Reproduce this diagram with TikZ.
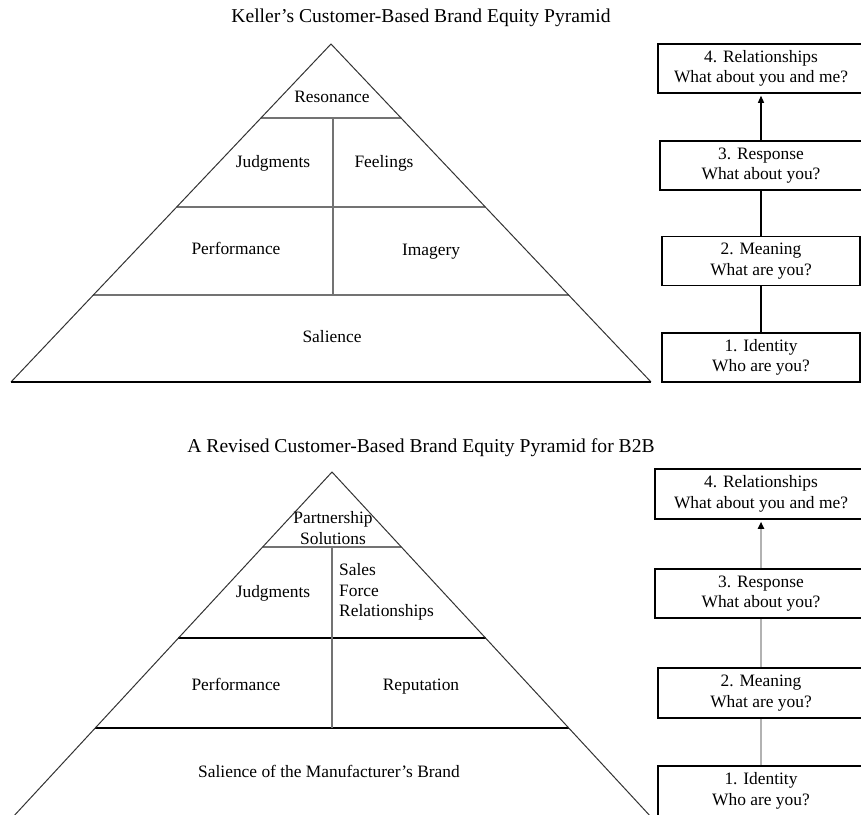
\documentclass[tikz,border=0pt]{standalone}
\usepackage{fontspec}
\setmainfont{Liberation Serif}
\usetikzlibrary{arrows.meta,calc}
\begin{document}
\begin{tikzpicture}[x=1pt,y=-1pt,
 lbl/.style={font=\fontsize{17.4}{20.5}\selectfont, inner sep=0pt, align=center, text height=12pt, text depth=4pt},
 ttl/.style={font=\fontsize{19.6}{22}\selectfont, inner sep=0pt},
 side/.style={draw=black!80, line width=1pt},
 divider/.style={draw=black!55, line width=1.4pt},
 basel/.style={draw=black, line width=1.4pt},
 stage/.style={draw=black, line width=1.5pt, minimum height=49pt, lbl, text height=, text depth=},
 linkA/.style={draw=black, line width=1.1pt},
 linkB/.style={draw=black!30, line width=2pt},
 tipA/.style={-{Triangle[length=7pt,width=6pt,color=black]}, shorten >=2pt},
]
\useasboundingbox (0,0) rectangle (861,814);
\clip (0,0) rectangle (861,814);

% ---------- top pyramid ----------
\node[ttl] (title1) at (421,18) {Keller's Customer-Based Brand Equity Pyramid};
\coordinate (TA) at (331,44);
\coordinate (TL) at (11,382);
\coordinate (TR) at (651,382);
\coordinate (T1l) at ($(TA)!0.2189!(TL)$); \coordinate (T1r) at ($(TA)!0.2189!(TR)$);
\coordinate (T2l) at ($(TA)!0.4822!(TL)$); \coordinate (T2r) at ($(TA)!0.4822!(TR)$);
\coordinate (T3l) at ($(TA)!0.7426!(TL)$); \coordinate (T3r) at ($(TA)!0.7426!(TR)$);
\coordinate (TVt) at (333,118); \coordinate (TVb) at (333,295);
\draw[divider] (T1l) -- (T1r);
\draw[divider] (T2l) -- (T2r);
\draw[divider] (T3l) -- (T3r);
\draw[divider] (TVt) -- (TVb);
\draw[side] (TL) -- (TA) -- (TR);
\draw[basel] (TL) -- (TR);

\node[lbl] (res) at (332,98) {Resonance};
\node[lbl] (jud1) at (273,163) {Judgments};
\node[lbl] (feel) at (384,163) {Feelings};
\node[lbl] (perf1) at (236,250) {Performance};
\node[lbl] (imag) at (431,251) {Imagery};
\node[lbl] (sal1) at (332,338) {Salience};

% ---------- top stages ----------
\node[stage, minimum width=198pt] (a1) at (761,357.5) {1. Identity\\Who are you?};
\node[stage, minimum width=198pt] (a2) at (761,261) {2. Meaning\\What are you?};
\node[stage, minimum width=202pt] (a3) at (761,165.5) {3. Response\\What about you?};
\node[stage, minimum width=206pt] (a4) at (761,68.5) {4. Relationships\\What about you and me?};
\draw[linkA] (a1) -- (a2);
\draw[linkA] (a2) -- (a3);
\draw[linkA, tipA] (a3) -- (a4);

% ---------- bottom pyramid ----------
\node[ttl] (title2) at (421,448) {A Revised Customer-Based Brand Equity Pyramid for B2B};
\coordinate (BA) at (332,472);
\coordinate (BL) at (12,818);
\coordinate (BR) at (652,818);
\coordinate (B1l) at ($(BA)!0.2168!(BL)$); \coordinate (B1r) at ($(BA)!0.2168!(BR)$);
\coordinate (B2l) at ($(BA)!0.4798!(BL)$); \coordinate (B2r) at ($(BA)!0.4798!(BR)$);
\coordinate (B3l) at ($(BA)!0.7399!(BL)$); \coordinate (B3r) at ($(BA)!0.7399!(BR)$);
\coordinate (BVt) at (332,547); \coordinate (BVb) at (332,728);
\draw[divider] (B1l) -- (B1r);
\draw[basel] (B2l) -- (B2r);
\draw[basel] (B3l) -- (B3r);
\draw[divider] (BVt) -- (BVb);
\draw[side] (BL) -- (BA) -- (BR);
\draw[basel] (BL) -- (BR);

\node[lbl, text height=, text depth=] (part) at (333,528) {Partnership\\Solutions};
\node[lbl] (jud2) at (273,593) {Judgments};
\node[lbl, align=left, anchor=west, text height=, text depth=] (sales) at (339,592) {Sales\\Force\\Relationships};
\node[lbl] (perf2) at (236,686) {Performance};
\node[lbl] (repu) at (421,686) {Reputation};
\node[lbl] (sal2) at (329,773) {Salience of the Manufacturer's Brand};

% ---------- bottom stages ----------
\node[stage, minimum width=206pt, minimum height=50pt] (b1) at (761,791) {1. Identity\\Who are you?};
\node[stage, minimum width=206pt, minimum height=50pt] (b2) at (761,693) {2. Meaning\\What are you?};
\node[stage, minimum width=212pt] (b3) at (761,593.5) {3. Response\\What about you?};
\node[stage, minimum width=212pt, minimum height=50pt] (b4) at (761,494) {4. Relationships\\What about you and me?};
\draw[linkB] (b1) -- (b2);
\draw[linkB] (b2) -- (b3);
\draw[linkB, tipA] (b3) -- (b4);
\end{tikzpicture}
\end{document}
